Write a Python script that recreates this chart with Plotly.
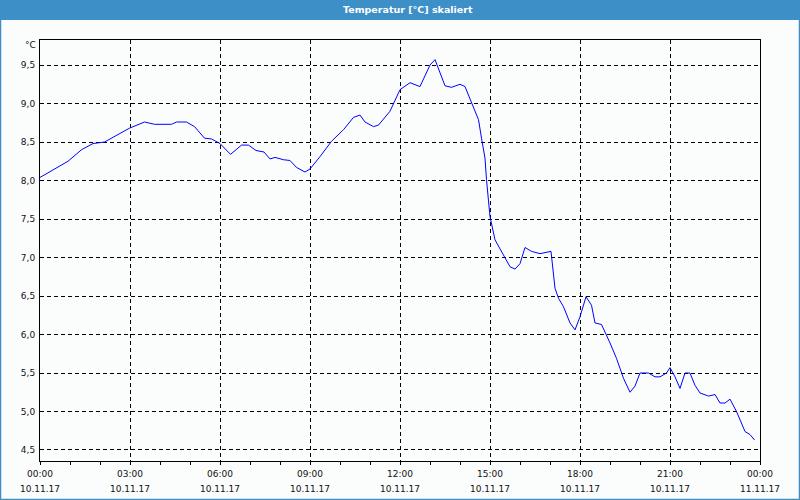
import plotly.graph_objects as go

# minutes since 10.11.17 00:00
minutes = [0, 56, 83, 106, 129, 179, 209, 229, 263, 273, 293, 309, 329, 343, 360, 381, 403, 417,
           432, 448, 460, 470, 487, 500, 513, 530, 540, 560, 583, 607, 627, 640, 650, 667, 677,
           700, 720, 740, 760, 780, 790, 810, 823, 840, 850, 863, 877, 883, 890, 893, 900, 910,
           927, 940, 950, 960, 970, 983, 1000, 1017, 1022, 1030, 1037, 1047, 1060, 1070, 1080,
           1092, 1103, 1110, 1123, 1140, 1153, 1167, 1180, 1190, 1200, 1217, 1230, 1240, 1253,
           1260, 1270, 1280, 1290, 1300, 1310, 1320, 1337, 1350, 1360, 1370, 1380, 1393, 1410,
           1420, 1429]
temps = [8.04, 8.25, 8.40, 8.48, 8.50, 8.68, 8.76, 8.73, 8.73, 8.76, 8.76, 8.70, 8.55, 8.54, 8.48,
         8.34, 8.46, 8.46, 8.39, 8.37, 8.28, 8.30, 8.27, 8.26, 8.17, 8.11, 8.15, 8.31, 8.51, 8.66,
         8.82, 8.85, 8.76, 8.70, 8.72, 8.90, 9.18, 9.27, 9.22, 9.50, 9.57, 9.23, 9.21, 9.25, 9.22,
         9.02, 8.79, 8.55, 8.29, 8.01, 7.53, 7.23, 7.03, 6.88, 6.85, 6.92, 7.13, 7.08, 7.05, 7.08,
         7.08, 6.60, 6.47, 6.36, 6.15, 6.06, 6.23, 6.49, 6.38, 6.15, 6.13, 5.89, 5.69, 5.43, 5.25,
         5.33, 5.50, 5.50, 5.45, 5.45, 5.50, 5.57, 5.45, 5.30, 5.50, 5.50, 5.34, 5.24, 5.20, 5.22,
         5.11, 5.11, 5.16, 5.00, 4.74, 4.70, 4.63]

tick_minutes = [0, 180, 360, 540, 720, 900, 1080, 1260, 1440]
tick_times = ["00:00", "03:00", "06:00", "09:00", "12:00", "15:00", "18:00", "21:00", "00:00"]
tick_dates = ["10.11.17"] * 8 + ["11.11.17"]
y_ticks = [4.5, 5.0, 5.5, 6.0, 6.5, 7.0, 7.5, 8.0, 8.5, 9.0, 9.5]

title_text = "Temperatur [°C] skaliert"
unit_text = "°C"

W, H = 800, 500
L, R, T, B = 40, 40, 40, 39
pw, ph = W - L - R, H - T - B

def px(xp):
    return (xp - L) / pw

def py(yp):
    return (H - B - yp) / ph

font_family = "DejaVu Sans"
txt_color = "#111111"
blue = "#3d8fc7"
bg = "#fbfdfc"

fig = go.Figure()
fig.add_trace(go.Scatter(x=minutes, y=temps, mode="lines",
                         line=dict(color="#0000ff", width=1), hoverinfo="skip",
                         showlegend=False))
# invisible trace on the second x-axis for the date labels
fig.add_trace(go.Scatter(x=[minutes[0]], y=[temps[0]], xaxis="x2", mode="markers",
                         marker=dict(opacity=0), showlegend=False, hoverinfo="skip"))

fig.update_layout(
    width=W, height=H,
    margin=dict(l=L, r=R, t=T, b=B, autoexpand=False),
    paper_bgcolor=bg, plot_bgcolor=bg,
    separators=",.",
    font=dict(family=font_family, size=9, color=txt_color),
    xaxis=dict(range=[0, 1440], tickmode="array", tickvals=tick_minutes, ticktext=tick_times,
               showgrid=True, gridcolor="#000000", gridwidth=1, griddash="4px,3px",
               showline=True, linecolor="#000000", linewidth=1, mirror=True,
               ticks="outside", ticklen=3, tickcolor="#000000",
               minor=dict(tickmode="linear", tick0=0, dtick=60, ticks="outside", ticklen=3,
                          tickcolor="#000000", showgrid=False),
               ticklabelstandoff=1, zeroline=False, fixedrange=True, automargin=False),
    xaxis2=dict(range=[0, 1440], overlaying="x", side="bottom", anchor="y",
                tickmode="array", tickvals=tick_minutes, ticktext=tick_dates,
                showgrid=False, showline=False, ticks="", zeroline=False,
                ticklabelstandoff=21, automargin=False),
    yaxis=dict(range=[4.357, 9.825], tickmode="array", tickvals=y_ticks, tickformat=".1f",
               showgrid=True, gridcolor="#000000", gridwidth=1, griddash="4px,3px",
               showline=True, linecolor="#000000", linewidth=1, mirror=True,
               ticks="", ticklabelstandoff=2, zeroline=False, fixedrange=True,
               automargin=False),
    shapes=[
        dict(type="rect", xref="paper", yref="paper", x0=px(0), x1=px(W), y0=py(20), y1=py(0),
             fillcolor=blue, line=dict(width=0), layer="above"),
        dict(type="rect", xref="paper", yref="paper", x0=px(0.5), x1=px(W - 0.5),
             y0=py(H - 0.5), y1=py(0.5), line=dict(color=blue, width=1.5),
             fillcolor="rgba(0,0,0,0)", layer="above"),
    ],
    annotations=[
        dict(text="<b>" + title_text + "</b>", xref="paper", yref="paper", x=px(408), y=py(10),
             xanchor="center", yanchor="middle", showarrow=False,
             font=dict(family=font_family, size=9.5, color="#ffffff")),
        dict(text=unit_text, xref="paper", yref="paper", x=px(38), y=py(45),
             xanchor="right", yanchor="middle", showarrow=False,
             font=dict(family=font_family, size=9, color=txt_color)),
    ],
)

fig.write_html("out.html", config={"displayModeBar": False},
               post_script="document.body.style.margin='0';document.body.style.overflow='hidden';")
